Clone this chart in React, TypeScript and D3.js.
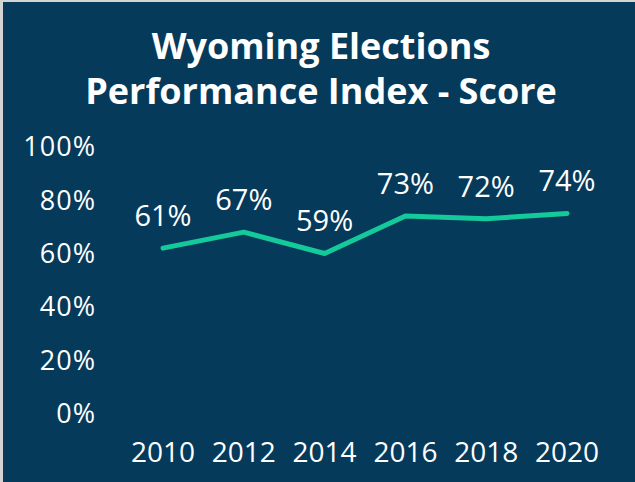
import React from 'react';
import * as d3 from 'd3';

const years = ['2010', '2012', '2014', '2016', '2018', '2020'];
const scores = [61, 67, 59, 73, 72, 74];
const yTicks = [0, 20, 40, 60, 80, 100];
const titleLines = ['Wyoming Elections', 'Performance Index - Score'];

const W = 635;
const H = 482;
const BG = '#053A5B';
const LINE = '#14C99A';
const FONT = '"Open Sans", Lato, sans-serif';

export default function App() {
  const x = d3.scalePoint<string>().domain(years).range([163, 567]);
  const y = d3.scaleLinear().domain([0, 100]).range([411, 144]);

  const line = d3.line<number>()
    .x((_, i) => x(years[i]) as number)
    .y(d => y(d));

  return (
    <div style={{ position: 'fixed', top: 0, left: 0 }}>
      <svg width={W} height={H} style={{ display: 'block' }}>
        <rect x={0} y={0} width={W} height={H} fill="#d4d4d4" />
        <rect x={3} y={2} width={W - 3} height={H - 2} fill={BG} />

        {/* title */}
        <text
          x={321}
          fill="#fff"
          fontFamily={FONT}
          fontWeight={700}
          fontSize={36}
          textAnchor="middle"
        >
          {titleLines.map((t, i) => (
            <tspan key={t} x={321} y={59 + i * 45}>{t}</tspan>
          ))}
        </text>

        {/* y axis labels */}
        {yTicks.map(t => (
          <text
            key={t}
            x={96}
            y={y(t)}
            dy="0.45em"
            fill="#fff"
            fontFamily={FONT}
            fontSize={27}
            letterSpacing={1}
            textAnchor="end"
          >
            {t}%
          </text>
        ))}

        {/* x axis labels */}
        {years.map(yr => (
          <text
            key={yr}
            x={x(yr)}
            y={462}
            fill="#fff"
            fontFamily={FONT}
            fontSize={28}
            textAnchor="middle"
          >
            {yr}
          </text>
        ))}

        <path
          d={line(scores) || ''}
          fill="none"
          stroke={LINE}
          strokeWidth={5}
          strokeLinecap="round"
          strokeLinejoin="round"
        />

        {/* data labels */}
        {scores.map((v, i) => (
          <text
            key={years[i]}
            x={x(years[i])}
            y={y(v) - 22}
            fill="#fff"
            fontFamily={FONT}
            fontSize={29}
            textAnchor="middle"
          >
            {v}%
          </text>
        ))}
      </svg>
    </div>
  );
}
